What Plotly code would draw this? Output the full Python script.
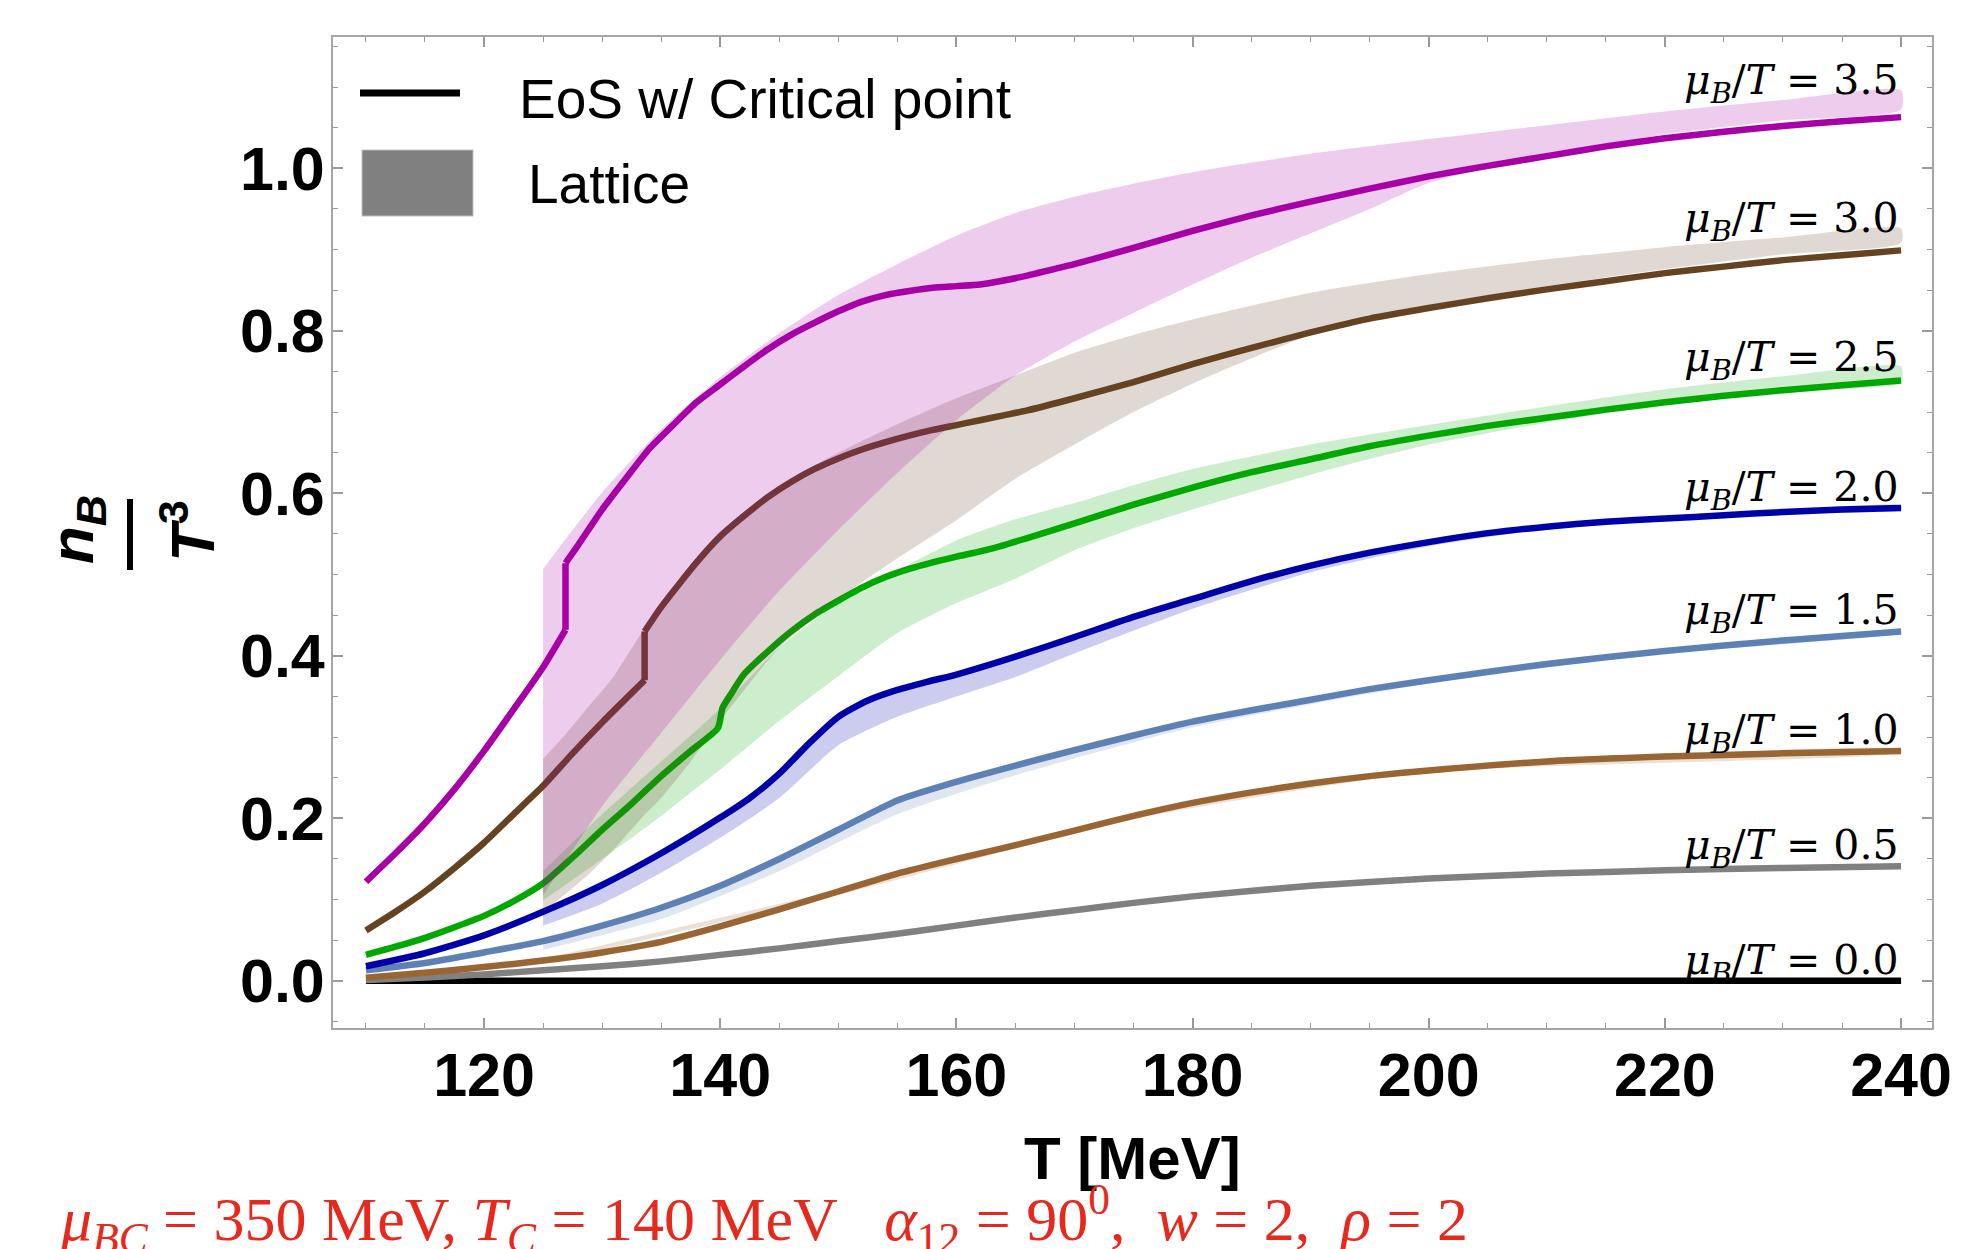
import plotly.graph_objects as go

# ---------------- data ----------------
MU_VALUES = ["0.0", "0.5", "1.0", "1.5", "2.0", "2.5", "3.0", "3.5"]

T_00 = [110, 240]
NB_00 = [0.0, 0.0]

T_05 = [110, 115, 120, 125, 130, 135, 140, 145, 150, 155, 160, 165, 170, 175, 180, 190, 200, 210, 220, 230, 240]
NB_05 = [0.001, 0.004, 0.008, 0.013, 0.018, 0.024, 0.032, 0.040, 0.049, 0.058, 0.068, 0.078, 0.087, 0.096, 0.104,
         0.117, 0.126, 0.132, 0.136, 0.139, 0.141]

T_10 = [110, 115, 120, 125, 130, 135, 140, 145, 150, 155, 160, 165, 170, 175, 180, 185, 190, 195, 200, 210, 220, 230, 240]
NB_10 = [0.004, 0.010, 0.017, 0.025, 0.035, 0.048, 0.067, 0.088, 0.110, 0.132, 0.150, 0.167, 0.185, 0.203, 0.219,
         0.232, 0.243, 0.252, 0.259, 0.270, 0.276, 0.280, 0.283]
BAND_T_10 = [125, 150, 175, 200, 240]
BAND_HI_10 = [0.027, 0.112, 0.205, 0.261, 0.285]
BAND_LO_10 = [0.022, 0.106, 0.199, 0.257, 0.281]

T_15 = [110, 115, 120, 125, 130, 135, 140, 145, 150, 155, 160, 165, 170, 175, 180, 185, 190, 195, 200, 210, 220, 230, 240]
NB_15 = [0.013, 0.022, 0.035, 0.049, 0.068, 0.090, 0.117, 0.150, 0.186, 0.222, 0.245, 0.265, 0.284, 0.302, 0.319,
         0.333, 0.346, 0.359, 0.370, 0.390, 0.406, 0.419, 0.430]
BAND_T_15 = [125, 135, 145, 155, 165, 180, 200, 220, 240]
BAND_HI_15 = [0.051, 0.092, 0.152, 0.224, 0.267, 0.320, 0.371, 0.407, 0.431]
BAND_LO_15 = [0.038, 0.076, 0.135, 0.205, 0.253, 0.312, 0.366, 0.403, 0.428]

T_20 = [110, 115, 120, 125, 130, 135, 140, 142.5, 145, 147.5, 150, 152.5, 155, 157.5, 160, 165, 170, 175, 180, 185,
        190, 195, 200, 205, 210, 215, 220, 225, 230, 235, 240]
NB_20 = [0.018, 0.034, 0.056, 0.085, 0.118, 0.157, 0.201, 0.225, 0.255, 0.292, 0.325, 0.345, 0.358, 0.368, 0.377,
         0.399, 0.423, 0.448, 0.470, 0.492, 0.511, 0.527, 0.540, 0.551, 0.559, 0.565, 0.569, 0.573, 0.577, 0.580, 0.582]
BAND_T_20 = [125, 130, 135, 140, 145, 150, 155, 160, 165, 170, 180, 190, 200, 210, 220, 230, 240]
BAND_HI_20 = [0.088, 0.121, 0.160, 0.204, 0.258, 0.328, 0.361, 0.380, 0.402, 0.426, 0.473, 0.514, 0.543, 0.562, 0.572,
              0.580, 0.585]
BAND_LO_20 = [0.068, 0.095, 0.133, 0.176, 0.225, 0.290, 0.325, 0.350, 0.374, 0.403, 0.458, 0.503, 0.535, 0.556, 0.567,
              0.575, 0.580]

T_25 = [110, 112.5, 115, 117.5, 120, 122.5, 125, 127.5, 130, 132.5, 135, 137.5, 139.8, 140.2, 141, 142, 144, 146, 148,
        150, 152, 154, 156, 158, 160, 163, 166, 170, 175, 180, 185, 190, 195, 200, 205, 210, 215, 220, 225, 230, 235, 240]
NB_25 = [0.032, 0.042, 0.053, 0.066, 0.080, 0.098, 0.120, 0.152, 0.186, 0.218, 0.252, 0.283, 0.311, 0.336, 0.355,
         0.377, 0.405, 0.430, 0.451, 0.468, 0.484, 0.497, 0.507, 0.515, 0.522, 0.532, 0.545, 0.563, 0.586, 0.607, 0.626,
         0.642, 0.658, 0.671, 0.683, 0.693, 0.703, 0.712, 0.720, 0.727, 0.733, 0.739]
BAND_T_25 = [125, 130, 135, 140, 145, 150, 155, 160, 165, 170, 175, 180, 190, 200, 210, 220, 230, 240]
BAND_HI_25 = [0.135, 0.205, 0.270, 0.335, 0.410, 0.465, 0.505, 0.542, 0.568, 0.588, 0.610, 0.630, 0.660, 0.684, 0.707,
              0.728, 0.744, 0.756]
BAND_LO_25 = [0.099, 0.150, 0.203, 0.260, 0.320, 0.375, 0.428, 0.465, 0.495, 0.530, 0.557, 0.580, 0.623, 0.660, 0.687,
              0.710, 0.726, 0.736]

T_30 = [110, 112.5, 115, 117.5, 120, 122.5, 125, 127.5, 130, 132, 133.6, 133.6, 135, 138, 140, 142, 144, 146, 148, 150,
        152, 154, 156, 158, 160, 162, 164, 166, 170, 175, 180, 185, 190, 195, 200, 205, 210, 215, 220, 225, 230, 235, 240]
NB_30 = [0.062, 0.085, 0.110, 0.139, 0.170, 0.205, 0.240, 0.280, 0.318, 0.347, 0.370, 0.430, 0.460, 0.515, 0.547,
         0.572, 0.595, 0.614, 0.630, 0.643, 0.654, 0.663, 0.671, 0.678, 0.684, 0.690, 0.696, 0.702, 0.717, 0.737, 0.759,
         0.779, 0.798, 0.815, 0.828, 0.840, 0.851, 0.861, 0.871, 0.879, 0.887, 0.893, 0.899]
BAND_T_30 = [125, 127, 129, 131, 133.5, 135, 137.5, 140, 145, 150, 155, 160, 165, 170, 175, 180, 190, 200, 210, 220,
             230, 240]
BAND_HI_30 = [0.273, 0.305, 0.340, 0.375, 0.432, 0.462, 0.510, 0.552, 0.610, 0.650, 0.685, 0.717, 0.745, 0.773, 0.795,
              0.814, 0.847, 0.870, 0.888, 0.903, 0.915, 0.926]
BAND_LO_30 = [0.085, 0.108, 0.133, 0.162, 0.203, 0.225, 0.270, 0.320, 0.410, 0.470, 0.520, 0.567, 0.618, 0.660, 0.700,
              0.735, 0.795, 0.831, 0.855, 0.876, 0.894, 0.908]

T_35 = [110, 112.5, 115, 117.5, 120, 122.5, 125, 126.9, 126.9, 128, 130, 132, 134, 136, 138, 140, 142, 144, 146, 148,
        150, 152, 154, 156, 158, 160, 162, 164, 166, 168, 170, 175, 180, 185, 190, 195, 200, 205, 210, 215, 220, 225,
        230, 235, 240]
NB_35 = [0.122, 0.157, 0.194, 0.236, 0.283, 0.334, 0.386, 0.432, 0.514, 0.537, 0.580, 0.618, 0.655, 0.684, 0.712,
         0.734, 0.756, 0.777, 0.795, 0.810, 0.824, 0.836, 0.844, 0.849, 0.853, 0.855, 0.857, 0.862, 0.868, 0.875, 0.882,
         0.902, 0.923, 0.942, 0.959, 0.975, 0.990, 1.003, 1.015, 1.027, 1.037, 1.045, 1.052, 1.058, 1.063]
BAND_T_35 = [125, 130, 135, 140, 145, 150, 155, 160, 165, 170, 175, 180, 185, 190, 195, 200, 210, 220, 230, 240]
BAND_HI_35 = [0.507, 0.601, 0.679, 0.743, 0.797, 0.844, 0.882, 0.917, 0.945, 0.965, 0.981, 0.995, 1.007, 1.018, 1.027,
              1.036, 1.053, 1.070, 1.084, 1.096]
BAND_LO_35 = [0.105, 0.215, 0.305, 0.395, 0.480, 0.555, 0.625, 0.690, 0.745, 0.787, 0.822, 0.857, 0.890, 0.920, 0.950,
              0.982, 1.017, 1.042, 1.059, 1.072]

X_TICKS = [120, 140, 160, 180, 200, 220, 240]
Y_TICKS = [0.0, 0.2, 0.4, 0.6, 0.8, 1.0]
Y_TICK_TEXT = ["0.0", "0.2", "0.4", "0.6", "0.8", "1.0"]

# ---------------- styling ----------------
COLORS = {
    "0.0": (0, 0, 0),
    "0.5": (128, 128, 128),
    "1.0": (153, 102, 51),
    "1.5": (94, 129, 181),
    "2.0": (0, 0, 168),
    "2.5": (0, 168, 0),
    "3.0": (101, 67, 33),
    "3.5": (166, 0, 166),
}

SERIES = {
    "0.0": (T_00, NB_00, None),
    "0.5": (T_05, NB_05, None),
    "1.0": (T_10, NB_10, (BAND_T_10, BAND_HI_10, BAND_LO_10)),
    "1.5": (T_15, NB_15, (BAND_T_15, BAND_HI_15, BAND_LO_15)),
    "2.0": (T_20, NB_20, (BAND_T_20, BAND_HI_20, BAND_LO_20)),
    "2.5": (T_25, NB_25, (BAND_T_25, BAND_HI_25, BAND_LO_25)),
    "3.0": (T_30, NB_30, (BAND_T_30, BAND_HI_30, BAND_LO_30)),
    "3.5": (T_35, NB_35, (BAND_T_35, BAND_HI_35, BAND_LO_35)),
}


def pieces(t, y):
    """Split a curve at vertical jumps (repeated T): smooth parts + straight jump segments."""
    out, start = [], 0
    for i in range(len(t) - 1):
        if t[i] == t[i + 1]:
            out.append((t[start:i + 1], y[start:i + 1], "spline"))
            out.append((t[i:i + 2], y[i:i + 2], "linear"))
            start = i + 1
    out.append((t[start:], y[start:], "spline"))
    return out


fig = go.Figure()
annotations = []

for mu in MU_VALUES:
    t, nb, band = SERIES[mu]
    r, g, b = COLORS[mu]
    if band is not None:
        bt, hi, lo = band
        fig.add_trace(go.Scatter(
            x=list(bt) + list(bt)[::-1],
            y=list(hi) + list(lo)[::-1],
            fill="toself", fillcolor=f"rgba({r},{g},{b},0.2)",
            line=dict(width=0, shape="spline", smoothing=0.6), mode="lines", hoverinfo="skip",
            name=f"Lattice μB/T={mu}", showlegend=False))
    for xs, ys, shape in pieces(t, nb):
        fig.add_trace(go.Scatter(
            x=xs, y=ys, mode="lines",
            line=dict(color=f"rgb({r},{g},{b})", width=6.5, shape=shape, smoothing=0.6),
            name=f"EoS μB/T={mu}", showlegend=False))
    top = nb[-1] + 0.014
    if band is not None:
        top = max(top, band[1][-1])
    annotations.append(dict(
        x=t[-1], y=top, xref="x", yref="y", xanchor="right", yanchor="bottom",
        yshift=-22, showarrow=False,
        text=f"<i>μ</i><sub><i>B</i></sub>/<i>T</i> = {mu}",
        font=dict(family="DejaVu Serif", size=41, color="black")))

# page geometry: the html page has an 8px body margin, so the figure is offset by 8px
OFF = 8
W, H = 1971 - OFF, 1249 - OFF
# plot frame in page pixels: left 333, top 37, right 1932, bottom 1028
L, TOP = 333 - OFF, 37 - OFF
R, B = W - (1932 - OFF), H - (1028 - OFF)
PW, PH = W - L - R, H - TOP - B


def px(x):
    """page x pixel -> paper coordinate"""
    return (x - OFF - L) / PW


def py(y):
    """page y pixel -> paper coordinate"""
    return (H - B - (y - OFF)) / PH


# legend (drawn by hand to match the big symbols)
shapes = [
    dict(type="line", xref="paper", yref="paper", x0=px(360), x1=px(460), y0=py(93), y1=py(93),
         line=dict(color="black", width=7)),
    dict(type="rect", xref="paper", yref="paper", x0=px(362), x1=px(473), y0=py(216), y1=py(150),
         fillcolor="#808080", line=dict(color="#BDBDBD", width=1)),
    # fraction bar of the y-axis title
    dict(type="line", xref="paper", yref="paper", x0=px(130), x1=px(130), y0=py(570), y1=py(499),
         line=dict(color="black", width=6)),
]

annotations += [
    dict(x=px(517), y=py(99), xref="paper", yref="paper", xanchor="left", yanchor="middle",
         text="EoS w/ Critical point", showarrow=False,
         font=dict(family="Liberation Sans", size=55, color="black")),
    dict(x=px(526), y=py(184), xref="paper", yref="paper", xanchor="left", yanchor="middle",
         text="Lattice", showarrow=False,
         font=dict(family="Liberation Sans", size=55, color="black")),
    # y title as a fraction
    dict(x=px(76), y=py(530), xref="paper", yref="paper", xanchor="center", yanchor="middle",
         text="<i>n</i><sub><i>B</i></sub>", textangle=-90, showarrow=False,
         font=dict(family="Liberation Sans", size=62, color="black", weight="bold")),
    dict(x=px(188), y=py(531), xref="paper", yref="paper", xanchor="center", yanchor="middle",
         text="<i>T</i><sup>3</sup>", textangle=-90, showarrow=False,
         font=dict(family="Liberation Sans", size=62, color="black", weight="bold")),
    # x title
    dict(x=0.5, y=py(1158), xref="paper", yref="paper", xanchor="center", yanchor="middle",
         text="T [MeV]", showarrow=False,
         font=dict(family="Liberation Sans", size=60, color="black", weight="bold")),
    # red parameter line
    dict(x=px(58), y=py(1218), xref="paper", yref="paper", xanchor="left", yanchor="middle",
         text=("<i>μ</i><sub><i>BC</i></sub> = 350 MeV, <i>T</i><sub><i>C</i></sub> = 140 MeV\u00a0\u00a0\u00a0"
               "<i>α</i><sub>12</sub> = 90<sup>0</sup>,\u00a0\u00a0<i>w</i> = 2,\u00a0\u00a0<i>ρ</i> = 2"),
         showarrow=False,
         font=dict(family="Liberation Serif", size=62, color="#E8281C")),
]

axis_common = dict(
    showgrid=False, zeroline=False, showline=True, linecolor="#A6A6A6", linewidth=2,
    mirror="ticks", ticks="inside", tickcolor="#9A9A9A", tickwidth=1.5, ticklen=10,
    tickfont=dict(family="Liberation Sans", size=61, color="black", weight="bold"),
)

fig.update_xaxes(
    range=[107.21, 242.62], tickvals=X_TICKS, ticklabelstandoff=-7,
    minor=dict(dtick=5, tick0=0, ticks="inside", ticklen=5, tickcolor="#9A9A9A", tickwidth=1.2, showgrid=False),
    **axis_common)
fig.update_yaxes(
    range=[-0.058, 1.1616], tickvals=Y_TICKS, ticktext=Y_TICK_TEXT, ticklabelstandoff=-6,
    minor=dict(dtick=0.05, tick0=0, ticks="inside", ticklen=5, tickcolor="#9A9A9A", tickwidth=1.2, showgrid=False),
    **axis_common)

fig.update_layout(
    width=W, height=H, margin=dict(l=L, r=R, t=TOP, b=B, autoexpand=False),
    plot_bgcolor="white", paper_bgcolor="white", showlegend=False,
    annotations=annotations, shapes=shapes,
)

fig.write_html("out.html")
